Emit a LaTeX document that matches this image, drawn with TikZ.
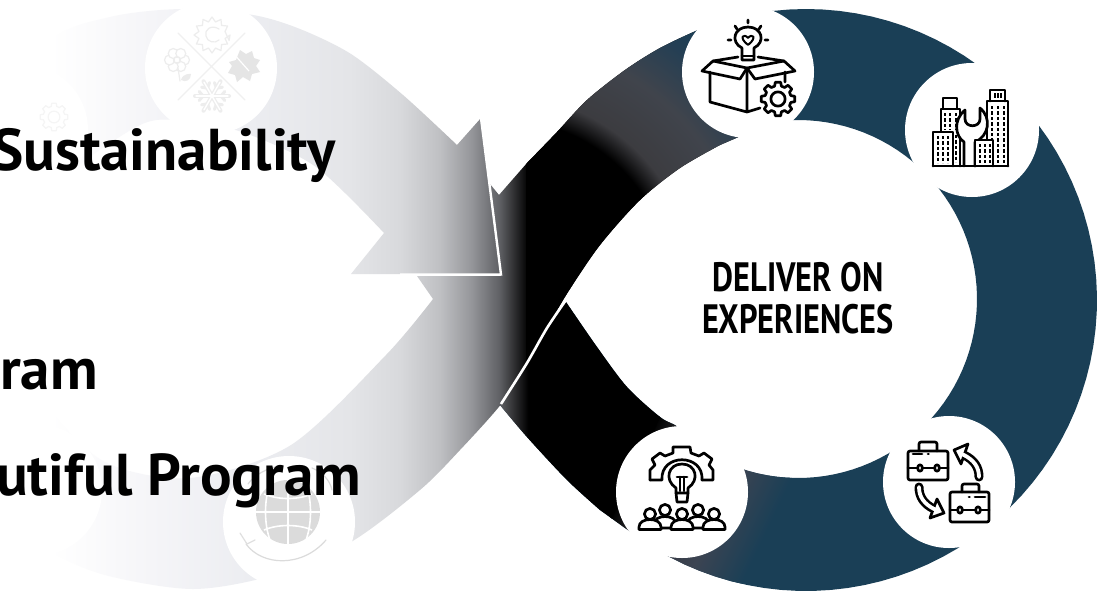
\documentclass[tikz,border=0pt]{standalone}
\usepackage{fontspec}
\setmainfont{PT Sans}
\newfontfamily\deliverfont[FakeStretch=0.79]{PT Sans}
\usetikzlibrary{positioning}
\definecolor{ringblue}{RGB}{26, 63, 86}
\definecolor{fadeA}{RGB}{245, 245, 248}
\definecolor{fadeB}{RGB}{236, 237, 241}
\definecolor{fadeC}{RGB}{228, 229, 232}
\definecolor{fadeD}{RGB}{216, 217, 220}
\definecolor{fadeE}{RGB}{191, 192, 195}
\definecolor{fadeF}{RGB}{150, 151, 155}
\definecolor{fadeG}{RGB}{95, 96, 100}
\definecolor{blendA}{RGB}{60, 60, 64}
\definecolor{blendB}{RGB}{64, 68, 76}
\definecolor{blendC}{RGB}{36, 63, 84}
\definecolor{blendD}{RGB}{48, 48, 52}
\definecolor{blendE}{RGB}{60, 68, 82}
\pgfdeclarehorizontalshading{loopfade}{100bp}{color(0bp)=(white); color(27.3bp)=(white); color(31.8bp)=(fadeA); color(36.3bp)=(fadeB); color(40.8bp)=(fadeC); color(43.1bp)=(fadeD); color(44.9bp)=(fadeE); color(46.3bp)=(fadeF); color(47.6bp)=(fadeG); color(48.9bp)=(black); color(100bp)=(black)}
\pgfdeclareradialshading{upblend}{\pgfpoint{0bp}{0bp}}{color(0bp)=(black); color(10.7bp)=(black); color(12.2bp)=(blendA); color(15.6bp)=(blendB); color(18.75bp)=(blendC); color(20.9bp)=(ringblue); color(50bp)=(ringblue)}
\pgfdeclarehorizontalshading{lowblend}{100bp}{color(0bp)=(black); color(25bp)=(black); color(35.3bp)=(blendD); color(57.8bp)=(blendE); color(75bp)=(ringblue); color(100bp)=(ringblue)}
\tikzset{
  headtext/.style={font=\fontsize{59}{61}\selectfont\bfseries, anchor=base west, inner sep=0pt},
  iconline/.style={draw=black, line width=2.7pt, line join=round, line cap=round},
  windowline/.style={draw=black, line width=2pt, dash pattern=on 3.4pt off 2pt},
  faintline/.style={draw=#1, line width=1.2pt, line join=round, line cap=round},
  cutcircle/.style={fill=white, draw=none},
}
% band outlines, in pixels of the picture
\newcommand{\arrowoutline}{(481,118) -- (501,274) -- (351,274) -- plot[smooth] coordinates {(384,233) (316,167) (245,133) (190,122) (140,125) (49,190) (10,260) (-100,300)} -- plot[smooth] coordinates {(-60,150) (46,43) (110,17) (182,9) (253,15) (300,29) (351,54) (403,95) (457,145)} -- cycle}
\newcommand{\crossoutline}{(433,299) -- (417,276) -- (501,276) -- (490,184) -- (499,195) -- plot[smooth] coordinates {(527,163) (557,132) (587,100) (625,70) (660,48) (698,30) (720,22)} -- (750,132) -- plot[smooth] coordinates {(720,145) (680,168) (640,200) (600,245) (568,292) (547,328) (527,363) (502,403) (460,450) (420,490) (351,542) (274,575) (193,589) (105,575) (46,549) (-40,490) (-90,400)} -- (-100,300) -- plot[smooth] coordinates {(0,300) (12,340) (46,405) (105,462) (190,478) (291,445) (386,355) (433,299)} -- cycle}
\newcommand{\ringoutline}{plot[domain=-100:128,samples=70] ({806+291*cos(\x)},{300+291*sin(\x)}) -- plot[smooth] coordinates {(600,510) (567,480) (527,437) (500,405)} -- (530,340) -- plot[smooth] coordinates {(566,302) (597,347) (627,387) (660,417) (678,427) (700,447)} -- plot[domain=115:-96,samples=70] ({798+179*cos(\x)},{299+179*sin(\x)}) -- cycle}
% outlined gear: centre, radius, style
\newcommand{\gearicon}[4]{
  \begin{scope}[shift={(#1,#2)}]
    \draw[#4] (-15:#3*0.78) \foreach \ga in {0,45,...,315}{ -- (\ga-15:#3*0.78) -- (\ga-9:#3) -- (\ga+9:#3) -- (\ga+15:#3*0.78)} -- cycle;
    \draw[#4] (0,0) circle (#3*0.42pt);
  \end{scope}
}
\begin{document}
\begin{tikzpicture}[x=1pt, y=-1pt]
  \useasboundingbox (0,0) rectangle (1105,592);
  \fill[white] (0,0) rectangle (1105,592);

  % Right ring and lower band
  \begin{scope}
    \clip \ringoutline;
    \fill[ringblue] (0,0) rectangle (1105,592);
    \begin{scope}[transform canvas={shift={(635,470)},rotate=-25.5}]
      \shade[shading=lowblend] (-2,-100) rectangle (145,200);
    \end{scope}
    \begin{scope}
      \clip (721,290) -- (549,650) -- (0,650) -- (0,290) -- cycle;
      \shade[shading=loopfade] (0,0) rectangle (1105,592);
    \end{scope}
  \end{scope}

  % Crossing band
  \begin{scope}
    \clip \crossoutline;
    \shade[shading=loopfade] (0,0) rectangle (1105,592);
    \clip (526,-100) rectangle (1200,700);
    \shade[shading=upblend] (100,-110) rectangle (900,690);
  \end{scope}
  \draw[white, line width=2.6pt] plot[smooth] coordinates {(566,300) (547,328) (527,363) (501,404)};

  % Arrow of the upper left band
  \begin{scope}
    \clip \arrowoutline;
    \shade[shading=loopfade] (0,0) rectangle (1105,592);
  \end{scope}
  \draw[white, line width=2.4pt, line join=miter] (481,118) -- (501,274.5) -- (400,274.5);

  % White discs
  \fill[cutcircle] (748,72) circle (66pt);
  \fill[cutcircle] (972,130) circle (67pt);
  \fill[cutcircle] (949,482) circle (66pt);
  \fill[cutcircle] (682,492) circle (66pt);
  \fill[cutcircle] (211,68) circle (66pt);
  \fill[cutcircle] (22,130) circle (66pt);
  \fill[cutcircle] (289,522) circle (66pt);
  \fill[cutcircle] (36,490) circle (66pt);

  % Box and bulb
  \draw[iconline] (710,72) -- (710,102) -- (747,112) -- (747,68) (747,112) -- (760,108) (785,72) -- (785,82);
  \draw[iconline] (747,68) -- (740,79) -- (702,71) -- (713,61) -- (747,68) -- (755,79) -- (795,71) -- (784,61) -- (747,68);
  \draw[iconline] (713,61) -- (738,57) (784,61) -- (758,57);
  \draw[iconline, fill=white] (742,53) -- (742,48) .. controls (730,42) and (734,27) .. (748,27) .. controls (762,27) and (766,42) .. (754,48) -- (754,53) -- (754,60) -- (742,60) -- cycle;
  \draw[iconline] (742,56) -- (754,56);
  \draw[line width=2pt, line join=round] (748,45) .. controls (738,37) and (744,33) .. (748,38) .. controls (752,33) and (758,37) .. (748,45);
  \draw[iconline] (748,20) -- (748,23) (735,26) -- (737,29) (761,26) -- (759,29) (728,40) -- (731,40) (768,40) -- (765,40);
  \gearicon{778}{99}{17}{iconline, fill=white}

  % Buildings and wrench
  \draw[iconline] (943,108) -- (943,98) -- (957,98) -- (957,108) (941,132) -- (941,109) -- (960,109) -- (960,166);
  \draw[iconline] (990,101) -- (990,90) -- (1005,90) -- (1005,101) (987,140) -- (987,101) -- (1008,101) -- (1008,166);
  \foreach \wx in {945,950,956}
    \draw[windowline] (\wx,113) -- (\wx,130);
  \draw[windowline] (955.5,135) -- (955.5,162);
  \foreach \wx in {992,998,1004}
    \draw[windowline] (\wx,106) -- (\wx,163);
  \foreach \wx in {995,998,1001}
    \draw[line width=1.3pt] (\wx,93) -- (\wx,98);
  \draw[iconline, fill=white] (964,166) -- (964,142) .. controls (955,136) and (953,120) .. (965,110) -- (965,119) .. controls (965,128) and (980,128) .. (980,119) -- (980,108) .. controls (992,118) and (989,136) .. (975,142) -- (975,166);
  \draw[iconline, fill=white] (933,166) -- (933,132) -- (953,132) -- (953,166);
  \draw[iconline, fill=white] (975,166) -- (975,140) -- (993,140) -- (993,166);
  \draw[iconline] (933,166) -- (1008,166);
  \foreach \wx in {938,943,948}
    \draw[windowline] (\wx,136) -- (\wx,163);
  \foreach \wx in {980,985,990}
    \draw[windowline] (\wx,144) -- (\wx,163);

  % Briefcases and turning arrows
  \draw[iconline, rounded corners=2pt] (908,451) rectangle (948,480);
  \draw[iconline, rounded corners=2pt] (919,451) -- (919,442) -- (937,442) -- (937,451);
  \draw[iconline] (908,468) -- (948,468) (913,454) -- (922,454) (928,454) -- (928.5,454);
  \draw[iconline, fill=white] (920,468) ellipse (2.4pt and 3.2pt) (937,468) ellipse (2.4pt and 3.2pt);
  \draw[iconline, rounded corners=2pt] (950,492) rectangle (989,522);
  \draw[iconline, rounded corners=2pt] (962,492) -- (962,484) -- (979,484) -- (979,492);
  \draw[iconline] (950,510) -- (989,510) (969,497) -- (969.5,497) (975,497) -- (985,497);
  \draw[iconline, fill=white] (960,510) ellipse (2.4pt and 3.2pt) (978,510) ellipse (2.4pt and 3.2pt);
  \draw[black, line width=9pt, line cap=round] (979,477) .. controls (979,467) and (974,460) .. (964,455);
  \draw[iconline, fill=white] (968,444) -- (954,450) -- (961,464) -- cycle;
  \draw[white, line width=3.8pt, line cap=round] (979,477) .. controls (979,467) and (974,460) .. (963,454.5);
  \draw[black, line width=9pt, line cap=round] (919,487) .. controls (919,497) and (924,504) .. (934,509);
  \draw[iconline, fill=white] (930,518) -- (944,513) -- (937,499) -- cycle;
  \draw[white, line width=3.8pt, line cap=round] (919,487) .. controls (919,497) and (924,504) .. (935,509.5);

  % Gear, bulb and people
  \draw[iconline] (650,480) -- (650,470) -- (655,465) -- (652,459) -- (660,453) -- (665,456) -- (673,453) -- (673,447) -- (690,447) -- (691,453) -- (699,456) -- (704,453) -- (712,459) -- (709,465) -- (713,470) -- (713,480) -- (702,480);
  \draw[iconline] (650,480) -- (662,480) .. controls (660,453) and (704,453) .. (702,480);
  \draw[iconline, fill=white] (676,493) -- (676,488) .. controls (664,480) and (668,464) .. (682,464) .. controls (696,464) and (700,480) .. (688,488) -- (688,493) -- cycle;
  \draw[iconline] (676,493) -- (677,502) -- (687,502) -- (688,493);
  \draw[iconline] (677,477) -- (687,477) (680,477) -- (680,491) (684,477) -- (684,491);
  \foreach \px in {665,698}{
    \draw[iconline, fill=white] (\px-11,528) -- (\px-11,524) .. controls (\px-11,514) and (\px+11,514) .. (\px+11,524) -- (\px+11,528) -- cycle;
    \draw[iconline, fill=white] (\px,510) circle (5.6pt);
  }
  \foreach \px in {650,682,714}{
    \draw[iconline, fill=white] (\px-11,529.5) -- (\px-11,527) .. controls (\px-11,517) and (\px+11,517) .. (\px+11,527) -- (\px+11,529.5) -- cycle;
    \draw[iconline, fill=white] (\px,514) circle (5.6pt);
  }

  % Faded season icon
  \draw[faintline=black!6] (178,33) -- (245,100) (245,33) -- (178,100);
  \draw[faintline=black!7, fill=white] (18:18) ++(212,35) \foreach \sa in {0,30,...,330}{ -- ({212+18*cos(\sa)},{35+18*sin(\sa)}) -- ({212+13.5*cos(\sa+15)},{35+13.5*sin(\sa+15)})} -- cycle;
  \draw[faintline=black!7] (219,29) .. controls (211,24) and (204,30) .. (206,36) .. controls (207,42) and (215,44) .. (219,40);
  \foreach \pa in {0,60,...,300}
    \draw[faintline=black!7, fill=white] ({177+7.5*cos(\pa)},{60+7.5*sin(\pa)}) circle (5pt);
  \draw[faintline=black!7] (177,60) circle (3.5pt) (178,68) -- (180,81);
  \fill[black!8] (181,80) .. controls (183,73) and (190,74) .. (191,74) .. controls (191,80) and (186,83) .. (181,80) -- cycle;
  \fill[black!10] (240,50) -- (246,54) -- (252,51) -- (254,58) -- (260,60) -- (256,66) -- (260,72) -- (252,74) -- (250,81) -- (243,77) -- (237,82) -- (235,75) -- (228,73) -- (232,66) -- (229,62) -- (236,60) -- cycle;
  \draw[white, line width=1.2pt] (233,53) -- (249,71);
  \foreach \sa in {0,60,...,300}{
    \draw[black!7, line width=4pt, line cap=round] (212,96) -- +(\sa:17);
    \draw[black!7, line width=3pt, line cap=round] ({212+9*cos(\sa)},{96+9*sin(\sa)}) -- +(\sa+50:6) ({212+9*cos(\sa)},{96+9*sin(\sa)}) -- +(\sa-50:6);
  }
  \foreach \sa in {0,60,...,300}
    \draw[white, line width=1.4pt, line cap=round] (212,96) -- +(\sa:16);

  % Faded globe
  \fill[black!14] (288,512) circle (32pt);
  \draw[white, line width=1.6pt] (288,480) -- (288,544) (256,512) -- (320,512) (270,484) .. controls (264,500) and (264,524) .. (270,540) (306,484) .. controls (312,500) and (312,524) .. (306,540) (264,494) .. controls (278,500) and (298,500) .. (312,494) (264,530) .. controls (278,524) and (298,524) .. (312,530);
  \draw[faintline=black!14] (246,544) .. controls (262,566) and (302,568) .. (326,540) (248,484) .. controls (255,474) and (268,468) .. (280,466) (312,468) .. controls (322,472) and (330,480) .. (332,490);
  \draw[faintline=black!12] (240,533) -- (247,544) -- (255,540);
  \gearicon{54}{117}{14}{faintline=black!4}

  % Text
  \node[headtext] (sustaintext) at (-8,170) {Sustainability};
  \node[headtext] (ramtext) at (0,389) {ram};
  \node[headtext] (programtext) at (-4,495) {utiful Program};
  \node[font=\deliverfont\bfseries\fontsize{41}{42}\selectfont, align=center, inner sep=0pt] (delivertext) at (798,298) {DELIVER ON\\EXPERIENCES};
\end{tikzpicture}
\end{document}
